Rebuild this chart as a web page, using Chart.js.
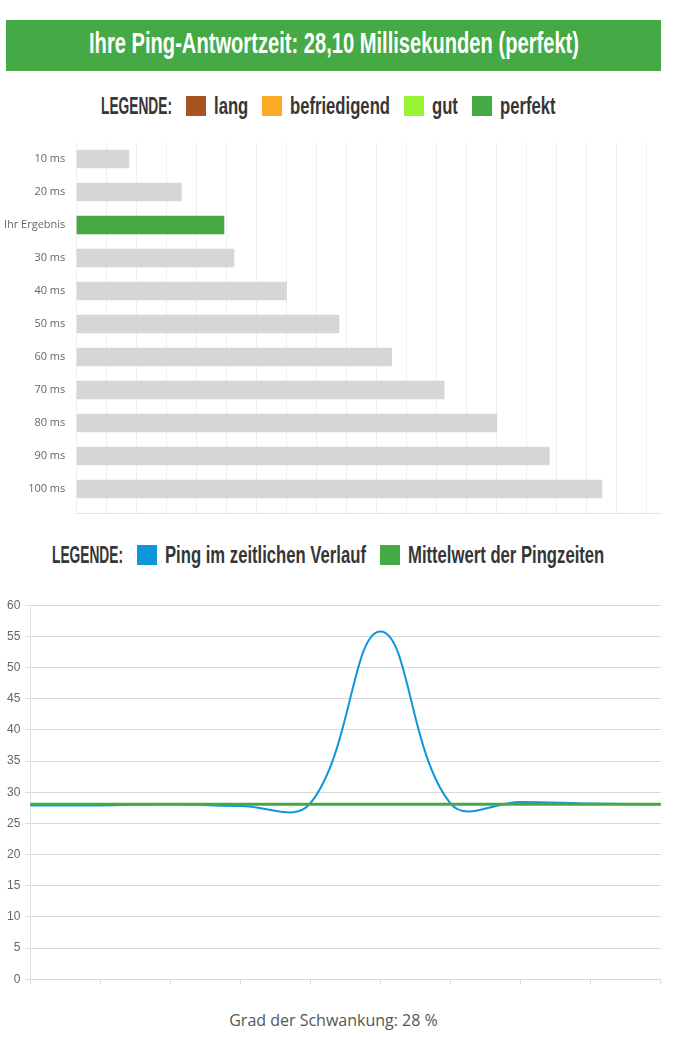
<!DOCTYPE html>
<html>
<head>
<meta charset="utf-8">
<script src="https://cdn.jsdelivr.net/npm/chart.js"></script>
<style>
  html, body { margin: 0; padding: 0; background: #fff; }
  body { width: 675px; height: 1045px; position: relative; overflow: hidden; font-family: "Open Sans", sans-serif; }
  .cond { display: inline-block; white-space: nowrap; font-family: "Liberation Sans Narrow", "Liberation Sans", sans-serif; font-weight: bold; }
  .cond > span { display: inline-block; transform-origin: 0 50%; }
  #title { position: absolute; left: 6px; top: 20px; width: 655px; height: 47px; padding-bottom: 4px; background: #45aa45; color: #fff;
           display: flex; justify-content: center; align-items: center; font-size: 29px; }
  .legend { position: absolute; left: 0; width: 657px; height: 30px; display: flex; justify-content: center; align-items: center;
            color: #363636; font-size: 24px; }
  .legend .box { width: 20px; height: 20px; margin: 0 8px 0 14px; }
  #legend1 { top: 91px; }
  #legend2 { top: 540px; }
  #barWrap { position: absolute; left: 0; top: 130px; width: 675px; height: 395px; }
  #lineWrap { position: absolute; left: 0; top: 590px; width: 675px; height: 410px; }
  #note { position: absolute; left: 0; width: 667px; top: 1009px; text-align: center; font-size: 16px; color: #555; }
</style>
</head>
<body>
  <div id="title"><span class="cond"><span>Ihre Ping-Antwortzeit: 28,10 Millisekunden (perfekt)</span></span></div>
  <div class="legend" id="legend1"></div>
  <div id="barWrap"><canvas id="barChart"></canvas></div>
  <div class="legend" id="legend2"></div>
  <div id="lineWrap"><canvas id="lineChart"></canvas></div>
  <div id="note">Grad der Schwankung: 28 %</div>

<script>
// bar chart: reference times and the measured result
const barLabels = ['10 ms', '20 ms', 'Ihr Ergebnis', '30 ms', '40 ms', '50 ms', '60 ms', '70 ms', '80 ms', '90 ms', '100 ms'];
const barValues = [10, 20, 28.1, 30, 40, 50, 60, 70, 80, 90, 100];
const resultLabel = 'Ihr Ergebnis';
const ratingLabels = ['lang', 'befriedigend', 'gut', 'perfekt'];

// line chart: ping over time and its mean
const pingLabels = ['1', '2', '3', '4', '5', '6', '7', '8', '9', '10'];
const pingValues = [27.9, 27.9, 28.1, 27.8, 28.25, 55.8, 28.2, 28.45, 28.2, 28.1];
const meanValues = [28.1, 28.1, 28.1, 28.1, 28.1, 28.1, 28.1, 28.1, 28.1, 28.1];
const seriesNames = ['Ping im zeitlichen Verlauf', 'Mittelwert der Pingzeiten'];

const GREEN = '#45aa45';
const BLUE = '#0e96dc';
const GREY = '#d6d6d6';
const ratingColors = ['#a85322', '#fda926', '#99f433', GREEN];

function legendRow(el, names, colors) {
  let html = '<span class="cond caps"><span>LEGENDE:</span></span>';
  names.forEach((n, i) => {
    html += '<span class="box" style="background:' + colors[i] + '"></span><span class="cond"><span>' + n + '</span></span>';
  });
  el.innerHTML = html;
}
legendRow(document.getElementById('legend1'), ratingLabels, ratingColors);
legendRow(document.getElementById('legend2'), seriesNames, [BLUE, GREEN]);

// squeeze the sans font so it looks like the narrow headline font
const capsSqueeze = 71 / document.querySelector('#legend1 .caps').getBoundingClientRect().width;
const textSqueeze = 490 / document.querySelector('#title .cond').getBoundingClientRect().width;
document.querySelectorAll('.cond').forEach(el => {
  const k = el.classList.contains('caps') ? capsSqueeze : textSqueeze;
  const w = el.getBoundingClientRect().width;
  el.style.width = (w * k) + 'px';
  el.firstElementChild.style.transform = 'scaleX(' + k + ')';
});

const gridStep = 5.707;

new Chart(document.getElementById('barChart'), {
  type: 'bar',
  data: {
    datasets: [{
      data: barValues.map((v, i) => ({ x: v, y: i })),
      backgroundColor: barLabels.map(l => l === resultLabel ? GREEN : GREY),
      barThickness: 18
    }]
  },
  options: {
    indexAxis: 'y',
    responsive: true,
    maintainAspectRatio: false,
    animation: false,
    layout: { padding: { top: 12.5, right: 14.3, bottom: 11.7, left: 0 } },
    plugins: { legend: { display: false }, tooltip: { enabled: false } },
    scales: {
      x: {
        type: 'linear', min: 0, max: 111.2,
        afterBuildTicks: s => {
          const t = [];
          for (let v = 0; v < s.max - 1; v += gridStep) t.push({ value: v });
          s.ticks = t;
        },
        afterFit: s => { s.height = 0; },
        ticks: { display: false },
        grid: { color: '#efefef', drawTicks: false },
        border: { display: true, color: '#e2e2e2' }
      },
      y: {
        type: 'linear', min: -0.5, max: 10.736, reverse: true, offset: false,
        afterBuildTicks: s => { s.ticks = barLabels.map((_, i) => ({ value: i })); },
        afterFit: s => { s.width = 76.3; },
        ticks: { callback: v => barLabels[v], padding: 3, color: '#666', font: { family: 'Open Sans', size: 11 } },
        grid: { display: false, offset: false },
        border: { display: false }
      }
    }
  }
});

new Chart(document.getElementById('lineChart'), {
  type: 'line',
  data: {
    labels: pingLabels,
    datasets: [
      { label: seriesNames[0], data: pingValues, borderColor: BLUE, borderWidth: 2, tension: 0.4, pointRadius: 0, fill: false, order: 2 },
      { label: seriesNames[1], data: meanValues, borderColor: GREEN, borderWidth: 3, pointRadius: 0, fill: false, order: 1 }
    ]
  },
  options: {
    responsive: true,
    maintainAspectRatio: false,
    animation: false,
    layout: { padding: { top: 15.3, right: 14.3, bottom: 15.7, left: 0 } },
    plugins: { legend: { display: false }, tooltip: { enabled: false } },
    scales: {
      x: {
        ticks: { display: false },
        grid: { drawOnChartArea: false, drawTicks: true, tickLength: 5, color: '#dcdcdc' },
        border: { display: false }
      },
      y: {
        min: 0, max: 60,
        afterFit: s => { s.width = 30.3; },
        ticks: { stepSize: 5, color: '#666', padding: 5, font: { family: 'Liberation Sans', size: 12 } },
        grid: { color: '#d9d9d9', tickLength: 5 },
        border: { color: '#e2e2e2' }
      }
    }
  }
});
</script>
</body>
</html>
